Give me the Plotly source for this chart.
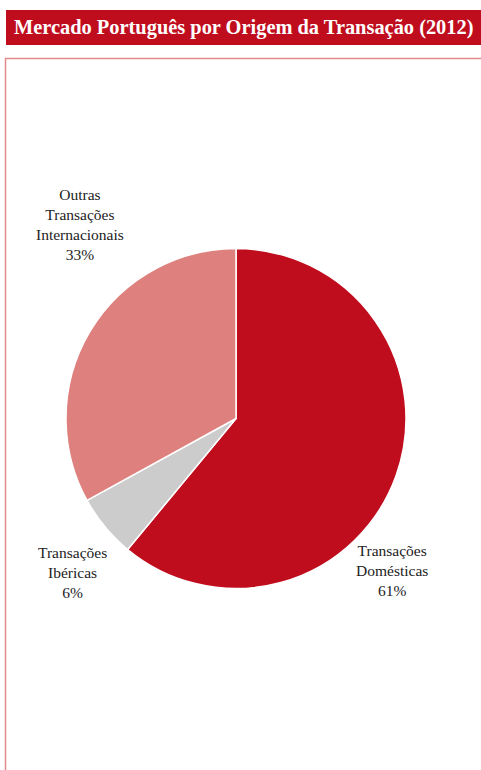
import plotly.graph_objects as go

title_text = "Mercado Português por Origem da Transação (2012)"
categories = ["Transações<br>Domésticas", "Transações<br>Ibéricas", "Outras<br>Transações<br>Internacionais"]
values = [61, 6, 33]
colors = ["#C00D1E", "#CCCCCC", "#DE807E"]

W, H = 481, 770

def px(x):
    return x / W

def py(y):
    return 1 - y / H

fig = go.Figure()
fig.add_trace(go.Pie(
    labels=categories,
    values=values,
    sort=False,
    direction="clockwise",
    rotation=0,
    marker=dict(colors=colors, line=dict(color="white", width=1.5)),
    textinfo="none",
    hoverinfo="label+percent",
    showlegend=False,
    domain=dict(x=[px(66), px(406)], y=[py(589), py(248)]),
))

# label positions (pixel) for each category
label_pos = [(392, 570), (72, 572), (80, 224)]
total = sum(values)
for cat, v, (lx, ly) in zip(categories, values, label_pos):
    fig.add_annotation(
        x=px(lx), y=py(ly), xref="paper", yref="paper",
        text=f"{cat}<br>{round(100 * v / total)}%",
        showarrow=False, align="center",
        font=dict(family="Liberation Serif", size=15.5, color="#222222"),
        xanchor="center", yanchor="middle",
    )

# title bar
fig.add_shape(type="rect", xref="paper", yref="paper",
              x0=px(6), x1=px(484), y0=py(45), y1=py(10),
              fillcolor="#C00D1E", line=dict(width=0), layer="below")
fig.add_annotation(x=px(244), y=py(27.5), xref="paper", yref="paper",
                   text=f"<b>{title_text}</b>", showarrow=False,
                   xanchor="center", yanchor="middle",
                   font=dict(family="Liberation Serif", size=20.4, color="white"))

# outer box
fig.add_shape(type="rect", xref="paper", yref="paper",
              x0=px(5.5), x1=px(490), y0=py(790), y1=py(58.5),
              line=dict(color="#E58A8A", width=1.5), fillcolor="rgba(0,0,0,0)",
              layer="below")

fig.update_layout(
    width=W, height=H,
    margin=dict(l=0, r=0, t=0, b=0),
    paper_bgcolor="white", plot_bgcolor="white",
)

fig.write_html("out.html", config={"displayModeBar": False},
               post_script="document.body.style.margin='0';document.body.style.overflow='hidden';")
